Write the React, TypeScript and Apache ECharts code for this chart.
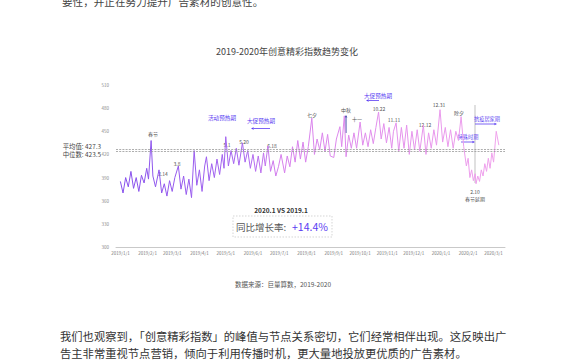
import React, { useEffect, useRef } from 'react';
import * as echarts from 'echarts';

const FONT = "'Noto Sans CJK SC', 'Noto Sans', sans-serif";

const dates: string[] = [
  '2019-01-01','2019-01-04','2019-01-07','2019-01-10','2019-01-13','2019-01-16','2019-01-19','2019-01-22','2019-01-25','2019-01-28','2019-01-31',
  '2019-02-02','2019-02-05','2019-02-07','2019-02-10','2019-02-14','2019-02-17','2019-02-20','2019-02-23','2019-02-26',
  '2019-03-01','2019-03-04','2019-03-08','2019-03-11','2019-03-14','2019-03-17','2019-03-20','2019-03-23','2019-03-26','2019-03-29',
  '2019-04-01','2019-04-04','2019-04-07','2019-04-09','2019-04-12','2019-04-15','2019-04-18','2019-04-21','2019-04-24','2019-04-27','2019-04-29',
  '2019-05-01','2019-05-04','2019-05-07','2019-05-10','2019-05-13','2019-05-16','2019-05-20','2019-05-23','2019-05-26','2019-05-29',
  '2019-06-01','2019-06-04','2019-06-07','2019-06-10','2019-06-13','2019-06-15','2019-06-18','2019-06-21','2019-06-24','2019-06-27','2019-06-30',
  '2019-07-03','2019-07-07','2019-07-10','2019-07-13','2019-07-16','2019-07-19','2019-07-22','2019-07-25','2019-07-28','2019-07-31',
  '2019-08-03','2019-08-07','2019-08-10','2019-08-13','2019-08-16','2019-08-19','2019-08-22','2019-08-25','2019-08-28',
  '2019-09-01','2019-09-04','2019-09-08','2019-09-10','2019-09-13','2019-09-15','2019-09-18','2019-09-21','2019-09-24','2019-09-27',
  '2019-10-01','2019-10-04','2019-10-07','2019-10-10','2019-10-13','2019-10-16','2019-10-19','2019-10-22','2019-10-25','2019-10-28','2019-10-31',
  '2019-11-03','2019-11-06','2019-11-08','2019-11-11','2019-11-14','2019-11-17','2019-11-20','2019-11-23','2019-11-26','2019-11-29',
  '2019-12-02','2019-12-05','2019-12-08','2019-12-12','2019-12-15','2019-12-18','2019-12-21','2019-12-24','2019-12-27','2019-12-31',
  '2020-01-03','2020-01-06','2020-01-09','2020-01-12','2020-01-15','2020-01-18','2020-01-21','2020-01-24','2020-01-27','2020-01-30',
  '2020-02-01','2020-02-03','2020-02-05','2020-02-07','2020-02-09','2020-02-10','2020-02-12','2020-02-14','2020-02-16','2020-02-18',
  '2020-02-20','2020-02-22','2020-02-24','2020-02-26','2020-02-28','2020-03-01','2020-03-04','2020-03-07'
];

const values: number[] = [
  385,370,390,378,398,376,390,372,393,383,402,
  388,438,392,378,400,370,382,366,386,
  372,390,405,375,392,368,388,364,425,380,
  400,372,405,417,386,408,390,414,394,420,402,
  443,405,425,408,428,406,435,410,425,402,
  420,398,418,396,422,405,431,398,412,392,404,
  420,396,418,404,430,410,438,414,436,410,
  430,467,420,440,426,448,424,446,418,
  416,440,456,430,470,417,445,428,448,428,
  462,432,448,430,452,434,455,475,440,460,435,
  455,428,450,461,424,455,428,458,420,450,
  426,452,424,458,420,448,428,452,432,478,
  436,455,430,452,428,450,438,469,430,405,
  415,390,400,386,395,382,392,385,400,392,
  408,398,415,402,422,410,450,432
];

// category axis: one category per day of the shown range
const axisStart = '2018-12-27';
const axisEnd = '2020-03-14';

const averageValue = 427.3;
const medianValue = 423.5;

const yMin = 300;
const yMax = 510;
const yInterval = 30;

const titleText = '2019-2020年创意精彩指数趋势变化';
const sourceText = '数据来源：巨量算数，2019-2020';
const compareTitle = '2020.1 VS 2019.1';
const growthLabel = '同比增长率:';
const growthValue = '+14.4%';
const topText = '要性，并正在努力提升广告素材的创意性。';
const paraLines = [
  '我们也观察到，「创意精彩指数」的峰值与节点关系密切，它们经常相伴出现。这反映出广',
  '告主非常重视节点营销，倾向于利用传播时机，更大量地投放更优质的广告素材。'
];

const BLUE = '#5a3cf2';
const GRAY = '#555';

function fmt(d: Date) {
  return d.getFullYear() + '/' + (d.getMonth() + 1) + '/' + d.getDate();
}
function parse(s: string) {
  const [y, m, d] = s.split('-').map(Number);
  return new Date(y, m - 1, d);
}

function T(text: string, x: number, y: number, o: any = {}) {
  const align = o.align || 'center';
  return {
    type: 'text', x, y, silent: true,
    style: {
      text, fill: o.fill || GRAY, fontSize: o.fs || 5, fontFamily: FONT,
      fontWeight: o.fw || 'normal', align, verticalAlign: 'middle',
      textAlign: align, textVerticalAlign: 'middle'
    }
  };
}

function arrow(x1: number, y1: number, x2: number, y2: number, color: string, w = 0.8) {
  const dx = x2 - x1, dy = y2 - y1;
  const len = Math.sqrt(dx * dx + dy * dy);
  const ux = dx / len, uy = dy / len;
  const hl = 2.6, hw = 1.3;
  const bx = x2 - ux * hl, by = y2 - uy * hl;
  return [
    { type: 'line', silent: true, shape: { x1, y1, x2: bx, y2: by }, style: { stroke: color, lineWidth: w } },
    { type: 'polygon', silent: true, shape: { points: [[x2, y2], [bx - uy * hw, by + ux * hw], [bx + uy * hw, by - ux * hw]] }, style: { fill: color } }
  ];
}

export default function App() {
  const ref = useRef<HTMLDivElement>(null);
  useEffect(() => {
    if (!ref.current) return;
    const chart = echarts.init(ref.current, null, { renderer: 'svg' });
    const categories: string[] = [];
    const end = parse(axisEnd);
    for (let d = parse(axisStart); d <= end; d = new Date(d.getFullYear(), d.getMonth(), d.getDate() + 1)) {
      categories.push(fmt(d));
    }
    const lookup: Record<string, number> = {};
    dates.forEach((s, i) => { lookup[fmt(parse(s))] = values[i]; });
    const seriesData = categories.map(c => (c in lookup ? lookup[c] : null));

    const graphics: any[] = [
      T(topText, 62, 1.5, { fs: 10.6, align: 'left', fill: '#444' }),
      T(titleText, 287, 51, { fs: 9, fill: '#444' }),
      T('平均值: ' + averageValue, 101, 146, { fs: 6.4, align: 'right', fill: '#444' }),
      T('中位数: ' + medianValue, 101, 154, { fs: 6.4, align: 'right', fill: '#444' }),
      T('春节', 153, 133),
      T('2.14', 163, 173),
      T('3.8', 177, 163),
      T('活动预热期', 222, 118, { fill: BLUE, fs: 5.6 }),
      T('5.1', 227, 144),
      T('5.20', 244, 141),
      T('大促预热期', 261, 121, { fill: BLUE, fs: 5.6 }),
      ...arrow(270, 128.5, 251, 128.5, BLUE),
      T('6.18', 272, 145),
      T('七夕', 312, 114),
      T('中秋', 346, 109),
      ...arrow(346, 133, 346, 115, '#2b2f9e', 0.9),
      T('十一', 357, 118),
      T('大促预热期', 378, 95.5, { fill: BLUE, fs: 5.6 }),
      ...arrow(379, 100.5, 366, 100.5, BLUE),
      T('10.22', 379, 108),
      T('11.11', 394, 119),
      T('12.12', 425, 124),
      T('12.31', 439, 104),
      T('除夕', 459, 112),
      { type: 'line', silent: true, shape: { x1: 475, y1: 105, x2: 475, y2: 183 }, style: { stroke: '#999', lineWidth: 0.6 } },
      T('抗疫居家期', 487, 118, { fill: BLUE, fs: 5.2 }),
      ...arrow(475, 124, 497, 124, BLUE),
      T('特殊时期', 468, 136, { fill: BLUE, fs: 5.2 }),
      ...arrow(461, 142, 475, 142, BLUE),
      T('2.10', 475, 191),
      T('春节延期', 475, 198),
      T(compareTitle, 281, 210, { fs: 6.5, fw: 'bold', fill: '#333' }),
      { type: 'rect', silent: true, shape: { x: 233, y: 216, width: 99, height: 21 }, style: { fill: 'none', stroke: '#bbb', lineWidth: 0.6, lineDash: [1.5, 1.5] } },
      T(growthLabel, 236, 226.5, { fs: 9.5, align: 'left', fill: '#555' }),
      T(growthValue, 292, 226.5, { fs: 10.5, align: 'left', fill: BLUE }),
      T(sourceText, 283, 284, { fs: 6.5, fill: '#555' }),
      T(paraLines[0], 60, 336, { fs: 11.3, align: 'left', fill: '#333' }),
      T(paraLines[1], 60, 353, { fs: 11.3, align: 'left', fill: '#333' })
    ];
    chart.setOption({
      animation: false,
      backgroundColor: '#fff',
      textStyle: { fontFamily: FONT },
      grid: { left: 116, right: 65, top: 85, bottom: 113, containLabel: false },
      xAxis: {
        type: 'category',
        data: categories,
        boundaryGap: false,
        axisLine: { lineStyle: { color: '#bbb', width: 0.8 } },
        axisTick: { show: false },
        splitLine: { show: false },
        axisLabel: {
          fontSize: 4.5, color: '#777', margin: 4, fontFamily: FONT,
          interval: (_i: number, v: string) => v.split('/')[2] === '1'
        }
      },
      yAxis: {
        type: 'value', min: yMin, max: yMax, interval: yInterval,
        axisLine: { show: false }, axisTick: { show: false }, splitLine: { show: false },
        axisLabel: { fontSize: 4.5, color: '#888', margin: 7, fontFamily: FONT }
      },
      series: [{
        type: 'line',
        data: seriesData,
        connectNulls: true,
        showSymbol: false,
        symbol: 'none',
        lineStyle: {
          width: 1,
          color: new echarts.graphic.LinearGradient(0, 0, 1, 0, [
            { offset: 0, color: '#8650ec' },
            { offset: 0.33, color: '#a866f0' },
            { offset: 0.42, color: '#d67fec' },
            { offset: 1, color: '#f0a2ec' }
          ])
        },
        markLine: {
          silent: true,
          symbol: 'none',
          label: { show: false },
          lineStyle: { color: '#999', width: 0.8, type: [2, 1.2] },
          data: [{ yAxis: averageValue }, { yAxis: medianValue }]
        }
      }],
      graphic: graphics
    });
    return () => chart.dispose();
  }, []);
  return <div ref={ref} style={{ position: 'fixed', left: 0, top: 0, width: 570, height: 360, background: '#fff' }} />;
}
